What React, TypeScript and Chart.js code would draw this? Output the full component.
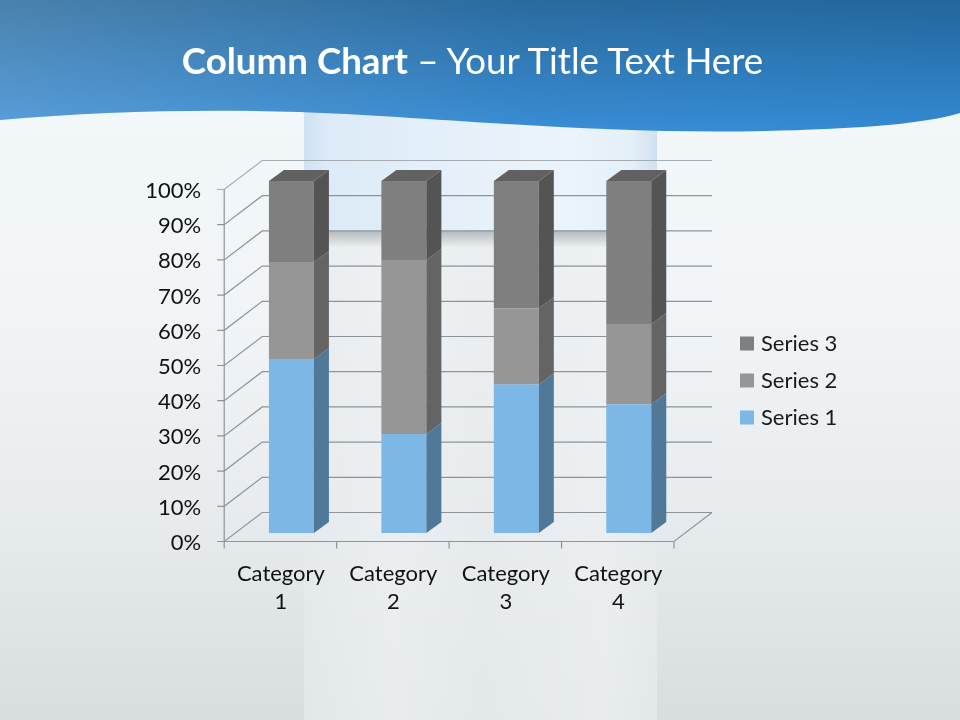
import React, { useEffect, useRef } from "react";
import { Chart, registerables } from "chart.js";

Chart.register(...registerables);

const categories = [["Category", "1"], ["Category", "2"], ["Category", "3"], ["Category", "4"]];
const series1 = [4.3, 2.5, 3.5, 4.5];
const series2 = [2.4, 4.4, 1.8, 2.8];
const series3 = [2, 2, 3, 5];
const seriesNames = ["Series 1", "Series 2", "Series 3"];
const frontColors = ["#7cb7e6", "#969696", "#7f7f7f"];
const sideColors = ["#4f7899", "#646464", "#545454"];
const topColor = "#616161";

const totals = series1.map((v, i) => v + series2[i] + series3[i]);
const toPercent = (values: number[]) => values.map((v, i) => (v / totals[i]) * 100);

const FONT = "Lato, Carlito, sans-serif";
const DX = 15;
const DY = 11;

const box3d = {
  id: "box3d",
  beforeDraw(chart: any) {
    const l = chart.legend;
    if (l) {
      l.left = 729;
      l.right = 880;
      l.top = 290;
      l.bottom = 471;
    }
  },
  beforeDatasetsDraw(chart: any) {
    const { ctx, chartArea } = chart;
    const y = chart.scales.y;
    const fx0 = chartArea.left - 11;
    const fx1 = chartArea.right - 11;
    const bx0 = fx0 + 38;
    const bx1 = fx1 + 38;
    ctx.save();
    ctx.lineWidth = 1.2;
    y.ticks.forEach((t: any) => {
      const p = y.getPixelForValue(t.value);
      const fy = p + 8.5;
      const by = p - 20.5;
      ctx.strokeStyle = t.value === 100 ? "#a7acb0" : "#8e9498";
      ctx.beginPath();
      ctx.moveTo(fx0 - 7, fy);
      ctx.lineTo(fx0, fy);
      ctx.lineTo(bx0, by);
      ctx.lineTo(bx1, by);
      ctx.stroke();
    });
    const p0 = y.getPixelForValue(0);
    const p100 = y.getPixelForValue(100);
    ctx.strokeStyle = "#8e9498";
    ctx.beginPath();
    ctx.moveTo(fx0, p100 + 8.5);
    ctx.lineTo(fx0, p0 + 8.5);
    ctx.lineTo(fx1, p0 + 8.5);
    ctx.lineTo(bx1, p0 - 20.5);
    ctx.stroke();
    const step = (fx1 - fx0) / categories.length;
    for (let i = 0; i <= categories.length; i++) {
      ctx.beginPath();
      ctx.moveTo(fx0 + i * step, p0 + 8.5);
      ctx.lineTo(fx0 + i * step, p0 + 15.5);
      ctx.stroke();
    }
    ctx.restore();
  },
  afterDatasetsDraw(chart: any) {
    const { ctx } = chart;
    ctx.save();
    const last = chart.data.datasets.length - 1;
    chart.data.datasets.forEach((_: any, di: number) => {
      chart.getDatasetMeta(di).data.forEach((bar: any) => {
        const { x, y, base, width } = bar.getProps(["x", "y", "base", "width"], true);
        const r = x + width / 2;
        const l = x - width / 2;
        ctx.fillStyle = sideColors[di];
        ctx.beginPath();
        ctx.moveTo(r, y);
        ctx.lineTo(r + DX, y - DY);
        ctx.lineTo(r + DX, base - DY);
        ctx.lineTo(r, base);
        ctx.closePath();
        ctx.fill();
        if (di === last) {
          ctx.fillStyle = topColor;
          ctx.beginPath();
          ctx.moveTo(l, y);
          ctx.lineTo(l + DX, y - DY);
          ctx.lineTo(r + DX, y - DY);
          ctx.lineTo(r, y);
          ctx.closePath();
          ctx.fill();
        }
      });
    });
    ctx.restore();
  },
};

function Background() {
  const wave = "M0,120 C100,111 200,109 300,112 C420,116 600,135 765,131 C850,129 920,125 960,113 L960,0 L0,0 Z";
  return (
    <svg width={960} height={720} style={{ position: "absolute", left: 0, top: 0 }}>
      <defs>
        <linearGradient id="base" x1="0" y1="0" x2="0" y2="1">
          <stop offset="0.15" stopColor="#f2f7fa" />
          <stop offset="0.42" stopColor="#f1f5f8" />
          <stop offset="0.7" stopColor="#e8ecef" />
          <stop offset="1" stopColor="#d8dde0" />
        </linearGradient>
        <linearGradient id="glass" x1="0" y1="0" x2="1" y2="0">
          <stop offset="0" stopColor="#cfe2f3" />
          <stop offset="0.07" stopColor="#dcebf7" />
          <stop offset="0.3" stopColor="#e2eef9" />
          <stop offset="0.75" stopColor="#ebf4fb" />
          <stop offset="0.93" stopColor="#e4eff8" />
          <stop offset="1" stopColor="#cfe1f1" />
        </linearGradient>
        <linearGradient id="lower" x1="0" y1="0" x2="1" y2="0">
          <stop offset="0" stopColor="#ffffff" stopOpacity="0" />
          <stop offset="0.25" stopColor="#ffffff" stopOpacity="0.22" />
          <stop offset="0.5" stopColor="#ffffff" stopOpacity="0.05" />
          <stop offset="0.85" stopColor="#ffffff" stopOpacity="0.22" />
          <stop offset="1" stopColor="#ffffff" stopOpacity="0.02" />
        </linearGradient>
        <linearGradient id="lowerBase" x1="0" y1="0" x2="0" y2="1">
          <stop offset="0" stopColor="#eaeef0" />
          <stop offset="0.5" stopColor="#e7ebee" />
          <stop offset="1" stopColor="#e2e7ea" />
        </linearGradient>
        <linearGradient id="shadow" x1="0" y1="0" x2="0" y2="1">
          <stop offset="0" stopColor="#b4babe" />
          <stop offset="1" stopColor="#eaeef0" />
        </linearGradient>
        <linearGradient id="waveV" x1="0" y1="0" x2="0" y2="1">
          <stop offset="0" stopColor="#23669b" />
          <stop offset="1" stopColor="#338ad4" />
        </linearGradient>
        <linearGradient id="waveH" x1="0" y1="0" x2="1" y2="0">
          <stop offset="0" stopColor="#ffffff" stopOpacity="0.18" />
          <stop offset="0.55" stopColor="#ffffff" stopOpacity="0.03" />
          <stop offset="1" stopColor="#ffffff" stopOpacity="0" />
        </linearGradient>
      </defs>
      <rect x={0} y={0} width={960} height={720} fill="url(#base)" />
      <rect x={304} y={100} width={353} height={131} fill="url(#glass)" />
      <rect x={304} y={231} width={353} height={489} fill="url(#lowerBase)" />
      <rect x={304} y={231} width={353} height={489} fill="url(#lower)" />
      <rect x={304} y={231} width={353} height={16} fill="url(#shadow)" />
      <path d={wave} fill="url(#waveV)" />
      <path d={wave} fill="url(#waveH)" />
    </svg>
  );
}

export default function App() {
  const ref = useRef<HTMLCanvasElement>(null);
  useEffect(() => {
    document.body.style.margin = "0";
    const data = [series1, series2, series3];
    const chart = new Chart(ref.current as HTMLCanvasElement, {
      type: "bar",
      data: {
        labels: categories as any,
        datasets: data.map((values, i) => ({
          label: seriesNames[i],
          data: toPercent(values),
          backgroundColor: frontColors[i],
          borderWidth: 0,
          categoryPercentage: 1,
          barPercentage: 0.4,
        })),
      },
      options: {
        responsive: false,
        animation: false,
        events: [],
        layout: { padding: { left: 0, top: 181, right: 175, bottom: 87 } },
        plugins: {
          title: { display: false },
          tooltip: { enabled: false },
          legend: {
            position: "right",
            reverse: true,
            align: "center",
            maxWidth: 100,
            labels: {
              color: "#1a1a1a",
              font: { family: FONT, size: 22 },
              boxWidth: 6,
              boxHeight: 6,
              padding: 15,
              generateLabels: (c: any) =>
                c.data.datasets.map((d: any, i: number) => ({
                  text: d.label,
                  fillStyle: frontColors[i],
                  strokeStyle: frontColors[i],
                  lineWidth: 8,
                  fontColor: "#1a1a1a",
                  datasetIndex: i,
                  hidden: false,
                })),
            },
          },
        },
        scales: {
          x: {
            stacked: true,
            grid: { display: false },
            border: { display: false },
            afterFit: (s: any) => {
              s.height = 100;
            },
            ticks: {
              autoSkip: false,
              maxRotation: 0,
              minRotation: 0,
              padding: 19,
              labelOffset: -10.5,
              color: "#111111",
              font: { family: FONT, size: 22, lineHeight: 1.27 },
            },
          },
          y: {
            stacked: true,
            min: 0,
            max: 100,
            grid: { display: false },
            border: { display: false },
            afterFit: (s: any) => {
              s.width = 235.2;
            },
            ticks: {
              stepSize: 10,
              padding: 26,
              labelOffset: 10,
              color: "#111111",
              font: { family: FONT, size: 22 },
              callback: (v: any) => v + "%",
            },
          },
        },
      },
      plugins: [box3d],
    } as any);
    return () => chart.destroy();
  }, []);
  return (
    <div style={{ position: "absolute", left: 0, top: 0, width: 960, height: 720, overflow: "hidden" }}>
      <Background />
      <canvas ref={ref} width={960} height={720} style={{ position: "absolute", left: 0, top: 0 }} />
      <div
        style={{
          position: "absolute",
          left: 0,
          top: 36,
          width: 945,
          textAlign: "center",
          color: "#ffffff",
          fontFamily: FONT,
          fontSize: 36.7,
          lineHeight: "48px",
          whiteSpace: "nowrap",
        }}
      >
        <b>Column Chart</b> – Your Title Text Here
      </div>
    </div>
  );
}
